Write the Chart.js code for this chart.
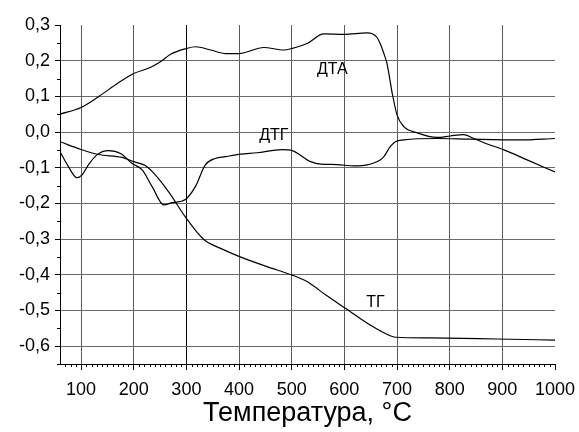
<!DOCTYPE html>
<html>
<head>
<title>DTA / DTG / TG</title>
<script src="https://cdn.jsdelivr.net/npm/chart.js@4.4.0/dist/chart.umd.min.js"></script>
<style>
body { margin:0; background:#fff; }
</style>
</head>
<body>
<div style="width:579px;height:432px;">
<canvas id="chart1"></canvas>
</div>

<script>
// temperature (C) and signal values
var dtaT = [60, 100, 133, 171, 200, 230, 250, 270, 300, 317, 346, 375, 400, 447, 485, 500, 529, 561, 600, 643, 652, 662, 668, 675, 681, 691, 700, 713, 738, 776, 801, 826, 846, 865, 903, 947, 1000];
var dtaV = [0.050, 0.069, 0.099, 0.138, 0.164, 0.180, 0.196, 0.218, 0.234, 0.239, 0.230, 0.220, 0.220, 0.237, 0.230, 0.234, 0.248, 0.275, 0.274, 0.278, 0.276, 0.265, 0.248, 0.220, 0.192, 0.108, 0.048, 0.015, -0.002, -0.015, -0.011, -0.007, -0.018, -0.030, -0.050, -0.078, -0.112];

var dtgT = [60, 76, 92, 102, 114, 130, 152, 175, 197, 216, 235, 257, 273, 298, 317, 336, 355, 374, 403, 434, 482, 501, 536, 555, 586, 618, 643, 668, 675, 687, 697, 713, 776, 839, 934, 1000];
var dtgV = [-0.055, -0.097, -0.128, -0.120, -0.092, -0.064, -0.052, -0.060, -0.088, -0.106, -0.153, -0.204, -0.198, -0.189, -0.153, -0.092, -0.074, -0.069, -0.062, -0.058, -0.049, -0.052, -0.083, -0.090, -0.091, -0.095, -0.092, -0.078, -0.069, -0.041, -0.027, -0.022, -0.018, -0.020, -0.022, -0.018];

var tgT = [60, 100, 133, 178, 200, 222, 241, 266, 300, 333, 365, 401, 453, 501, 529, 567, 602, 649, 687, 697, 763, 890, 1000];
var tgV = [-0.027, -0.049, -0.063, -0.071, -0.083, -0.094, -0.120, -0.167, -0.242, -0.301, -0.326, -0.349, -0.377, -0.401, -0.419, -0.459, -0.494, -0.541, -0.571, -0.575, -0.577, -0.580, -0.583];

var xTicks = [100, 200, 300, 400, 500, 600, 700, 800, 900, 1000];
var yTicks = [-0.6, -0.5, -0.4, -0.3, -0.2, -0.1, 0.0, 0.1, 0.2, 0.3];

// curve names written next to the lines
var curveNames = ['ДТА', 'ДТГ', 'ТГ'];
var nameT = [577, 466, 659];
var nameV = [0.174, -0.010, -0.479];

function pts(xs, ys) {
	return xs.map(function(x, i) { return {x: x, y: ys[i]}; });
}

function series(label, xs, ys) {
	return {
		label: label,
		data: pts(xs, ys),
		borderColor: 'black',
		borderWidth: 1.2,
		pointRadius: 0,
		fill: false,
		cubicInterpolationMode: 'monotone'
	};
}

var FONT = "'Liberation Sans', Arial, sans-serif";

// minor ticks and curve names
var extras = {
	id: 'extras',
	afterDraw: function(chart) {
		var c = chart.ctx, xs = chart.scales.x, ys = chart.scales.y;
		var a = chart.chartArea;
		c.save();
		c.strokeStyle = 'black';
		c.lineWidth = 1;
		c.beginPath();
		for (var t = 70; t < 1000; t += 10) {
			if (t % 100 === 0) continue;
			var px = Math.round(xs.getPixelForValue(t)) + 0.5;
			c.moveTo(px, a.bottom);
			c.lineTo(px, a.bottom + 3);
		}
		for (var k = -13; k <= 5; k += 2) {
			var py = Math.round(ys.getPixelForValue(k * 0.05)) + 0.5;
			c.moveTo(a.left, py);
			c.lineTo(a.left - 3, py);
		}
		c.stroke();

		c.fillStyle = 'black';
		c.font = '16px ' + FONT;
		c.textAlign = 'center';
		c.textBaseline = 'middle';
		curveNames.forEach(function(n, i) {
			c.fillText(n, xs.getPixelForValue(nameT[i]), ys.getPixelForValue(nameV[i]));
		});
		c.restore();
	}
};

var ctx = document.getElementById('chart1').getContext('2d');
var chart = new Chart(ctx, {
	type: 'line',
	data: {
		datasets: [
			series('ДТА', dtaT, dtaV),
			series('ДТГ', dtgT, dtgV),
			series('ТГ', tgT, tgV)
		]
	},
	options: {
		responsive: true,
		maintainAspectRatio: false,
		animation: false,
		layout: { padding: { left: 0, right: 24, top: 25, bottom: 0 } },
		plugins: {
			legend: { display: false },
			tooltip: { enabled: false }
		},
		scales: {
			x: {
				type: 'linear',
				min: 60,
				max: 1000,
				afterBuildTicks: function(s) { s.ticks = xTicks.map(function(v) { return {value: v}; }); },
				afterFit: function(s) { s.height = 68; s.paddingLeft = 0; s.paddingRight = 0; },
				grid: {
					color: function(c) {
						if (c.tick && c.tick.value === 1000) return 'rgba(0,0,0,0)';
						if (c.tick && c.tick.value === 300) return 'black';
						return '#5a5a5a';
					},
					lineWidth: 1,
					tickColor: 'black',
					tickLength: 6
				},
				border: { color: 'black', width: 1 },
				ticks: {
					color: 'black',
					font: { family: FONT, size: 18 },
					padding: 9,
					maxRotation: 0,
					autoSkip: false,
					callback: function(v) { return String(v); }
				},
				title: {
					display: true,
					text: 'Температура, °C',
					color: 'black',
					font: { family: FONT, size: 27 },
					padding: { top: 0, bottom: 2 }
				}
			},
			y: {
				min: -0.65,
				max: 0.3,
				afterBuildTicks: function(s) { s.ticks = yTicks.map(function(v) { return {value: v}; }); },
				afterFit: function(s) { s.width = 60; },
				grid: {
					color: function(c) {
						if (c.tick && Math.abs(c.tick.value - 0.3) < 1e-6) return 'rgba(0,0,0,0)';
						return '#6a6a6a';
					},
					lineWidth: 1,
					tickColor: 'black',
					tickLength: 5
				},
				border: { color: 'black', width: 1 },
				ticks: {
					color: 'black',
					font: { family: FONT, size: 18 },
					padding: 5,
					callback: function(v) { return v.toFixed(1).replace('.', ','); }
				}
			}
		}
	},
	plugins: [extras]
});
</script>
</body>
</html>
